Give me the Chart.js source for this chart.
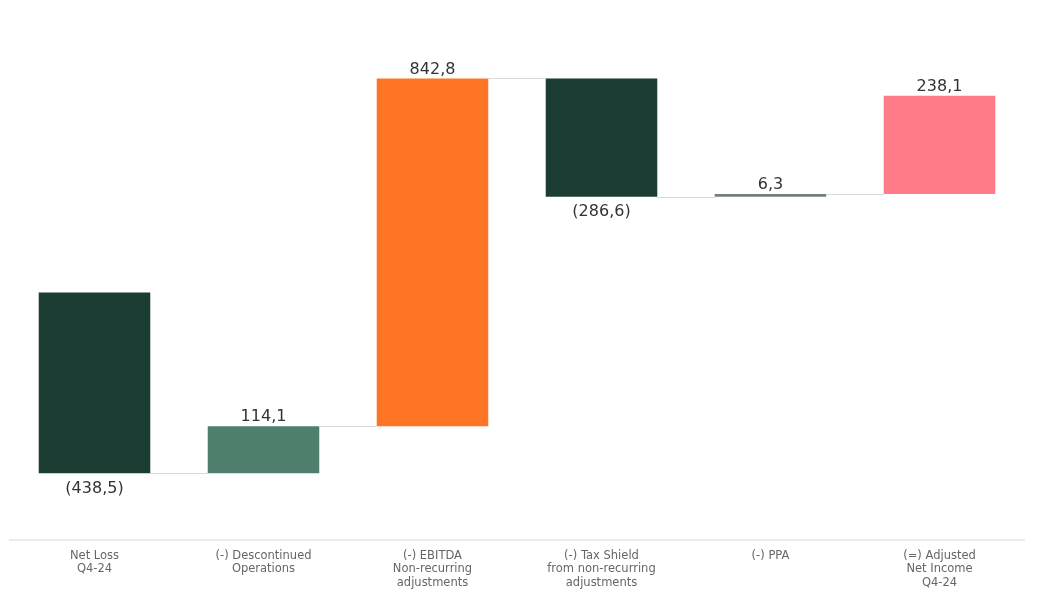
<!DOCTYPE html>
<html>
<head>
<meta charset="utf-8">
<script src="https://cdn.jsdelivr.net/npm/chart.js@4/dist/chart.umd.min.js"></script>
<style>
  html, body { margin: 0; padding: 0; background: #fff; }
  #wrap { width: 1052px; height: 612px; }
</style>
</head>
<body>
<div id="wrap"><canvas id="chart"></canvas></div>
<script>
// waterfall steps (each bar starts where the previous one ended, as in the picture)
const categories = [
    ['Net Loss', 'Q4-24'],
    ['(-) Descontinued', 'Operations'],
    ['(-) EBITDA', 'Non-recurring', 'adjustments'],
    ['(-) Tax Shield', 'from non-recurring', 'adjustments'],
    ['(-) PPA'],
    ['(=) Adjusted', 'Net Income', 'Q4-24']
];
const changes = [-438.5, 114.1, 842.8, -286.6, 6.3, 238.1];
const valueLabels = ['(438,5)', '114,1', '842,8', '(286,6)', '6,3', '238,1'];
const barColors = ['#1b3d33', '#4e7f6d', '#fd7425', '#1b3d33', '#6f7f7b', '#fe7b88'];

// build floating ranges
var ranges = [];
var running = 0;
for (var i = 0; i < changes.length; i++) {
    ranges.push([running, running + changes[i]]);
    running += changes[i];
}

const waterfallExtras = {
    id: 'waterfallExtras',
    afterDatasetsDraw(chart) {
        const ctx = chart.ctx;
        const meta = chart.getDatasetMeta(0);
        const y = chart.scales.y;
        ctx.save();
        // connectors
        ctx.strokeStyle = '#d9d9d9';
        ctx.lineWidth = 1;
        for (var i = 0; i < meta.data.length - 1; i++) {
            var a = meta.data[i], b = meta.data[i + 1];
            var level = y.getPixelForValue(ranges[i][1]);
            ctx.beginPath();
            ctx.moveTo(a.x + a.width / 2, Math.round(level) + 0.5);
            ctx.lineTo(b.x - b.width / 2, Math.round(level) + 0.5);
            ctx.stroke();
        }
        // value labels
        ctx.font = '16px "DejaVu Sans", Verdana, sans-serif';
        ctx.fillStyle = '#333333';
        ctx.textAlign = 'center';
        for (var j = 0; j < meta.data.length; j++) {
            var bar = meta.data[j];
            var top = Math.min(bar.y, bar.base), bottom = Math.max(bar.y, bar.base);
            if (changes[j] < 0) {
                ctx.textBaseline = 'top';
                ctx.fillText(valueLabels[j], bar.x, bottom + 7);
            } else {
                ctx.textBaseline = 'bottom';
                ctx.fillText(valueLabels[j], bar.x, top - 1);
            }
        }
        ctx.restore();
    }
};

new Chart(document.getElementById('chart'), {
    type: 'bar',
    data: {
        labels: categories,
        datasets: [{
            data: ranges,
            backgroundColor: barColors,
            borderWidth: 0,
            barPercentage: 0.66,
            categoryPercentage: 1
        }]
    },
    options: {
        responsive: true,
        maintainAspectRatio: false,
        animation: false,
        layout: { padding: { left: 10, right: 28, top: 20, bottom: 0 } },
        plugins: {
            legend: { display: false },
            tooltip: { enabled: false }
        },
        scales: {
            x: {
                grid: { display: false, drawTicks: false },
                border: { display: true, color: '#ebebeb', width: 2 },
                ticks: {
                    color: '#666666',
                    padding: 9,
                    font: { family: '"DejaVu Sans", Verdana, sans-serif', size: 11.5, lineHeight: '13.5px' },
                    maxRotation: 0,
                    autoSkip: false
                },
                afterFit: function(scale) { scale.height = 72; }
            },
            y: {
                display: false,
                min: -600,
                max: 660
            }
        }
    },
    plugins: [waterfallExtras]
});
</script>
</body>
</html>
